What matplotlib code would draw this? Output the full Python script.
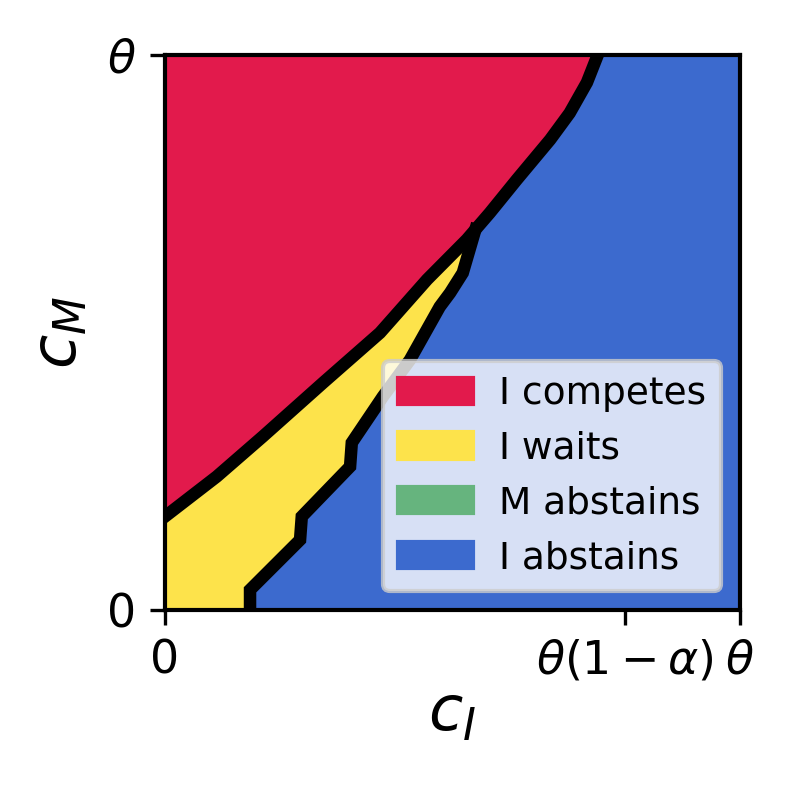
import matplotlib
matplotlib.use("Agg")
import matplotlib.pyplot as plt
import matplotlib.patches as mpatches
import numpy as np

# theta = 1, alpha = 0.2
theta = 1.0
alpha = 0.2

# boundary between "I competes" and the rest
compete_x = [0.0, 0.090, 0.170, 0.275, 0.374, 0.456, 0.525, 0.565, 0.612, 0.670, 0.704, 0.734, 0.753]
compete_y = [0.168, 0.240, 0.312, 0.409, 0.499, 0.595, 0.667, 0.715, 0.775, 0.847, 0.895, 0.950, 1.0]

# boundary between "I waits" and "I abstains"
wait_x = [0.148, 0.148, 0.235, 0.238, 0.322, 0.325, 0.379, 0.426, 0.478, 0.496, 0.518, 0.540]
wait_y = [0.0, 0.036, 0.126, 0.168, 0.258, 0.301, 0.384, 0.450, 0.546, 0.571, 0.607, 0.685]

labels = ["I competes", "I waits", "M abstains", "I abstains"]
colors = ["#E21A4C", "#FDE34B", "#66B47E", "#3C6ACE"]

fig = plt.figure(figsize=(793 / 300, 793 / 300), dpi=300)
ax = fig.add_axes([0.208, 0.231, 0.725, 0.700])

# background: I abstains
ax.fill_between([0, theta], 0, theta, color=colors[3], lw=0)

# I competes: above the compete boundary
ax.fill_between(compete_x, compete_y, theta, color=colors[0], lw=0)

# I waits: between the two boundaries
cx = np.array(compete_x)
cy = np.array(compete_y)
keep = cx <= wait_x[-1]
poly_x = [0.0] + wait_x + list(cx[keep][::-1])
poly_y = [0.0] + wait_y + list(cy[keep][::-1])
ax.fill(poly_x, poly_y, color=colors[1], lw=0)

# region borders
ax.plot(compete_x, compete_y, color="black", lw=3.0, solid_joinstyle="miter")
ax.plot(wait_x, wait_y, color="black", lw=3.0, solid_joinstyle="miter")

ax.set_xlim(0, theta)
ax.set_ylim(0, theta)
ax.set_xticks([0, theta * (1 - alpha), theta])
ax.set_xticklabels(["0", r"$\theta(1-\alpha)$", r"$\theta$"], fontsize=11)
ax.set_yticks([0, theta])
ax.set_yticklabels(["0", r"$\theta$"], fontsize=11)
ax.set_xlabel(r"$c_I$", fontsize=15, labelpad=0)
ax.set_ylabel(r"$c_M$", fontsize=15)
for s in ax.spines.values():
    s.set_linewidth(1.0)
    s.set_zorder(5)

handles = [mpatches.Patch(color=c, label=l) for c, l in zip(colors, labels)]
ax.legend(handles=handles, loc="lower right", fontsize=9, handletextpad=0.7)

fig.savefig("out.png", dpi=300)
